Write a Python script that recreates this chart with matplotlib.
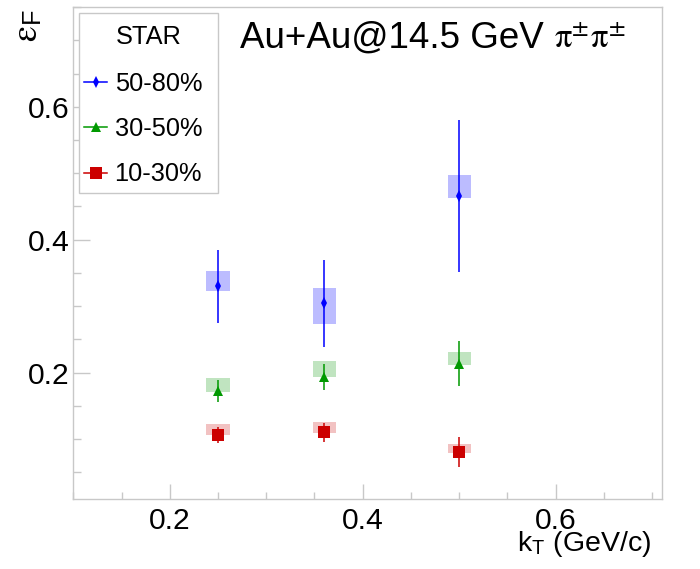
import matplotlib
matplotlib.use("Agg")
from matplotlib import pyplot as plt
from matplotlib.lines import Line2D
from matplotlib.patches import Rectangle
from matplotlib.ticker import MultipleLocator

plt.rcParams['font.family'] = ['Liberation Sans', 'DejaVu Sans']
plt.rcParams['mathtext.fontset'] = 'stix'

# kT bins (GeV/c)
kt = [0.25, 0.36, 0.50]

# 50-80%
eps_5080 = [0.330, 0.304, 0.466]
err_5080 = [0.055, 0.066, 0.115]
sys_lo_5080 = [0.323, 0.273, 0.463]
sys_hi_5080 = [0.353, 0.328, 0.497]

# 30-50%
eps_3050 = [0.172, 0.193, 0.213]
err_3050 = [0.017, 0.020, 0.034]
sys_lo_3050 = [0.171, 0.193, 0.212]
sys_hi_3050 = [0.192, 0.2175, 0.231]

# 10-30%
eps_1030 = [0.106, 0.110, 0.080]
err_1030 = [0.012, 0.014, 0.023]
sys_lo_1030 = [0.1063, 0.109, 0.079]
sys_hi_1030 = [0.1225, 0.126, 0.092]

labels = ['50-80%', '30-50%', '10-30%']

grey = '#c8c8c8'
W, H = 700, 569

fig = plt.figure(figsize=(7, 5.69), dpi=100)
ax = fig.add_axes([0.1048, 0.1230, 0.8404, 0.8642])

series = [
    (eps_5080, err_5080, sys_lo_5080, sys_hi_5080, '#0000ff', '#bcbcff', 'd', 5.8),
    (eps_3050, err_3050, sys_lo_3050, sys_hi_3050, '#009900', '#c0e4c0', '^', 7.4),
    (eps_1030, err_1030, sys_lo_1030, sys_hi_1030, '#cc0000', '#f2c2c2', 's', 8.0),
]

handles = []
for (y, e, lo, hi, col, boxcol, mk, ms), lab in zip(series, labels):
    # systematic boxes
    ax.bar(kt, [h - l for h, l in zip(hi, lo)], bottom=lo, width=0.024,
           color=boxcol, edgecolor='none', zorder=1)
    ax.errorbar(kt, y, yerr=e, fmt=mk, color=col, ms=ms, mew=0,
                elinewidth=1.1, capsize=0, zorder=3)
    handles.append(Line2D([], [], color=col, marker=mk, ms=ms, mew=0, lw=1.1))

ax.set_xlim(0.1, 0.71)
ax.set_ylim(0.0095, 0.75)

ax.xaxis.set_minor_locator(MultipleLocator(0.05))
ax.yaxis.set_minor_locator(MultipleLocator(0.05))
ax.set_xticks([0.2, 0.4, 0.6])
ax.set_xticklabels(['0.2', '0.4', '0.6'])
ax.set_yticks([0.2, 0.4, 0.6])
ax.set_yticklabels(['0.2', '0.4', '0.6'])

for s in ax.spines.values():
    s.set_color(grey)
    s.set_linewidth(1.0)

ax.tick_params(axis='both', which='both', direction='in', color=grey,
               labelsize=21.6, width=1.0)
ax.tick_params(axis='x', which='major', length=10.8, pad=6)
ax.tick_params(axis='x', which='minor', length=5.0)
ax.tick_params(axis='y', which='major', length=12.2, pad=3)
ax.tick_params(axis='y', which='minor', length=5.8)

# axis titles, ROOT style at the ends
fig.text(651 / W, 1 - 551 / H, r'k$_{\mathregular{T}}$ (GeV/c)',
         ha='right', va='baseline', fontsize=20.5)
fig.text(28 / W, 1 - 9 / H, r'$\mathrm{\varepsilon}_{\mathregular{F}}$',
         ha='center', va='top', rotation=90, fontsize=26)

fig.text(240 / W, 1 - 47.7 / H, 'Au+Au@14.5 GeV',
         ha='left', va='baseline', fontsize=26.5)
fig.text(554 / W, 1 - 47.7 / H,
         r'$\mathrm{\pi}^{\pm}\mathrm{\pi}^{\pm}$',
         ha='left', va='baseline', fontsize=25)

# legend frame (ROOT TLegend box) and its header
ax.add_patch(Rectangle((79.3 / W, 1 - 193.3 / H), 138.4 / W, 180.6 / H,
                       transform=fig.transFigure, facecolor='white',
                       edgecolor=grey, linewidth=1.0, zorder=4, clip_on=False))
ax.text(148.5 / W, 1 - 36.7 / H, 'STAR', transform=fig.transFigure,
        ha='center', va='center', fontsize=18.3, zorder=6)

leg = ax.legend(handles, labels, loc='upper left',
                bbox_to_anchor=(76.5 / W, 1 - 64.1 / H),
                bbox_transform=fig.transFigure, fontsize=18.3,
                frameon=False,
                handlelength=0.9, handletextpad=0.3, labelspacing=0.84,
                borderpad=0.3, borderaxespad=0)
leg.set_zorder(5)

fig.savefig('out.png', dpi=100)
